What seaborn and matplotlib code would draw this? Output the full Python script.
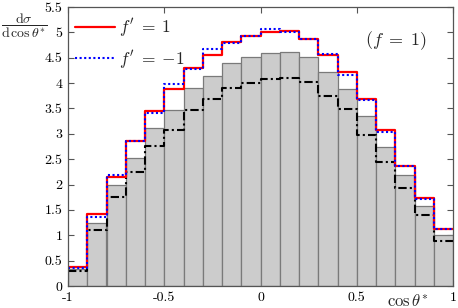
import numpy as np
import pandas as pd
import matplotlib
matplotlib.use("Agg")
import matplotlib.pyplot as plt
import seaborn as sns

# ---- data ----
bin_edges = [-1.0, -0.9, -0.8, -0.7, -0.6, -0.5, -0.4, -0.3, -0.2, -0.1, 0.0,
             0.1, 0.2, 0.3, 0.4, 0.5, 0.6, 0.7, 0.8, 0.9, 1.0]
gray_hist = [0.33, 1.25, 1.99, 2.52, 3.11, 3.47, 3.90, 4.14, 4.39, 4.51,
             4.59, 4.61, 4.51, 4.21, 3.89, 3.36, 2.75, 2.18, 1.57, 1.00]
red_fp1 = [0.375, 1.41, 2.14, 2.86, 3.45, 3.88, 4.29, 4.56, 4.81, 4.92,
           5.01, 5.03, 4.87, 4.55, 4.22, 3.69, 3.07, 2.375, 1.74, 1.13]
blue_fpm1 = [0.355, 1.36, 2.19, 2.86, 3.42, 3.98, 4.28, 4.68, 4.80, 4.93,
             5.06, 5.01, 4.87, 4.57, 4.15, 3.67, 3.04, 2.36, 1.72, 1.12]
black_dd = [0.30, 1.10, 1.76, 2.24, 2.76, 3.08, 3.47, 3.68, 3.90, 4.01,
            4.08, 4.10, 4.02, 3.75, 3.48, 2.98, 2.44, 1.93, 1.39, 0.89]
x_ticks = [-1, -0.5, 0, 0.5, 1]
x_tick_labels = ["-1", "-0.5", "0", "0.5", "1"]
y_ticks = [0, 0.5, 1, 1.5, 2, 2.5, 3, 3.5, 4, 4.5, 5, 5.5]
y_tick_labels = ["0", "0.5", "1", "1.5", "2", "2.5", "3", "3.5", "4", "4.5", "5", "5.5"]
legend_labels = [r"$f'\;=\;{1}$", r"$f'\;=\;{-1}$"]
annotation = r"$(f\;=\;1)$"

edges = np.array(bin_edges)
centers = (edges[:-1] + edges[1:]) / 2
df = pd.DataFrame({"x": centers, "gray": gray_hist, "red": red_fp1,
                   "blue": blue_fpm1, "black": black_dd})

sns.set_style("ticks")
plt.rcParams["font.family"] = ["cmr10", "DejaVu Serif"]
plt.rcParams["mathtext.fontset"] = "cm"
plt.rcParams["axes.unicode_minus"] = False
plt.rcParams["axes.formatter.use_mathtext"] = True

fig = plt.figure(figsize=(4.58, 3.08), dpi=100)
ax = fig.add_axes([68 / 458, 1 - 286 / 308, (453 - 68) / 458, (286 - 7) / 308])

bins_list = list(bin_edges)
sns.histplot(data=df, x="x", weights="gray", bins=bins_list, ax=ax,
             stat="count", element="bars", fill=True,
             color="#cccccc", edgecolor="#7a7a7a", linewidth=0.9, alpha=1)
sns.histplot(data=df, x="x", weights="black", bins=bins_list, ax=ax,
             stat="count", element="step", fill=False,
             color="black", linewidth=1.5, linestyle=(0, (4, 1.5, 1, 1.5)))
sns.histplot(data=df, x="x", weights="red", bins=bins_list, ax=ax,
             stat="count", element="step", fill=False,
             color="#ff0000", linewidth=1.6, linestyle="-")
sns.histplot(data=df, x="x", weights="blue", bins=bins_list, ax=ax,
             stat="count", element="step", fill=False,
             color="#0000ff", linewidth=1.5, linestyle=(0, (1, 1.2)))

lines = ax.get_lines()
red_line, blue_line = lines[-2], lines[-1]
ax.legend([red_line, blue_line], legend_labels, loc="upper left",
          bbox_to_anchor=(0.0, 0.99),
          frameon=False, fontsize=12.5, handlelength=2.3,
          borderaxespad=0.0, labelspacing=0.5, handletextpad=0.25)

ax.set_xlim(-1, 1)
ax.set_ylim(0, 5.5)
ax.set_xticks(x_ticks)
ax.set_xticklabels(x_tick_labels)
ax.set_yticks(y_ticks)
ax.set_yticklabels(y_tick_labels)
ax.set_xlabel("")
ax.set_ylabel("")
ax.tick_params(direction="in", length=4, width=0.8, labelsize=10,
               top=True, right=True, colors="#555555", labelcolor="black",
               pad=4)
for s in ax.spines.values():
    s.set_visible(True)
    s.set_color("#555555")
    s.set_linewidth(0.9)

ax.text(0.70, 4.83, annotation, fontsize=13, ha="center", va="center")
fig.text(24 / 458, 1 - 26 / 308,
         r"$\dfrac{\mathrm{d}\sigma}{\mathrm{d}\,\cos\theta^{*}}$",
         fontsize=10, ha="center", va="center")
fig.text(408 / 458, 1 - 301 / 308, r"$\cos\theta^{*}$", fontsize=12,
         ha="center", va="center")

fig.savefig("out.png", dpi=100)
